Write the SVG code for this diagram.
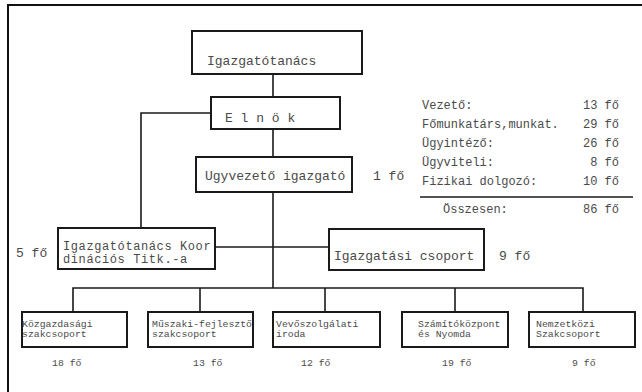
<svg xmlns="http://www.w3.org/2000/svg" width="642" height="392" viewBox="0 0 642 392">
<style>
.box{fill:#fff;stroke:#1a1a1a;stroke-width:2}
.ln{fill:none;stroke:#1a1a1a;stroke-width:1.6}
text{font-family:"Liberation Mono","DejaVu Sans Mono",monospace;fill:#4a4a4a}
.m{font-size:13px}
.k{font-size:12px;letter-spacing:0.6px}
.s{font-size:12px}
.x{font-size:9.8px}
.e{text-anchor:end}
</style>
<rect x="0" y="0" width="642" height="392" fill="#fff"/>
<path d="M8,392 V5 H642" fill="none" stroke="#111" stroke-width="2"/>
<g id="connectors">
<path class="ln" d="M273,74 V97"/>
<path class="ln" d="M211,113 H141 V228"/>
<path class="ln" d="M273,129 V157"/>
<path class="ln" d="M273,192 V288"/>
<path class="ln" d="M215,247 H329"/>
<path class="ln" d="M73,312 V288 H583 V312"/>
<path class="ln" d="M200,288 V312"/>
<path class="ln" d="M325,288 V312"/>
<path class="ln" d="M455,288 V312"/>
</g>
<g id="igazgatotanacs"><rect class="box" x="192" y="31" width="170" height="43"/><text class="m" x="207" y="64.5">Igazgatótanács</text></g>
<g id="elnok"><rect class="box" x="211" y="97" width="129" height="32"/><text class="m" x="225" y="121.5">E l n ö k</text></g>
<g id="ugyvezeto"><rect class="box" x="196" y="157" width="156" height="35"/><text class="m" x="205" y="179.5">Ugyvezető igazgató</text><text class="m" x="373" y="179.5">1 fő</text></g>
<g id="koordinacios"><rect class="box" x="58" y="228" width="157" height="41"/><text class="k" x="63" y="249.5">Igazgatótanács Koor</text><text class="k" x="63" y="262.5">dinációs Titk.-a</text><text class="m" x="16" y="256.5">5 fő</text></g>
<g id="igazgatasi"><rect class="box" x="329" y="229" width="155" height="41"/><text class="m" x="334" y="259.5">Igazgatási csoport</text><text class="m" x="499" y="259.5">9 fő</text></g>
<g id="kozgazdasagi"><rect class="box" x="22" y="312" width="105" height="35"/><text class="x" x="22" y="326.5">Közgazdasági</text><text class="x" x="22" y="336.5">szakcsoport</text><text class="x" x="52" y="366">18 fő</text></g>
<g id="muszaki"><rect class="box" x="148" y="312" width="105" height="35"/><text class="x" x="152" y="326.5">Műszaki-fejlesztő</text><text class="x" x="152" y="336.5">szakcsoport</text><text class="x" x="193" y="366">13 fő</text></g>
<g id="vevoszolgalati"><rect class="box" x="273" y="312" width="107" height="35"/><text class="x" x="276" y="326.5">Vevőszolgálati</text><text class="x" x="276" y="336.5">iroda</text><text class="x" x="301" y="366">12 fő</text></g>
<g id="szamitokozpont"><rect class="box" x="402" y="312" width="106" height="35"/><text class="x" x="418" y="326.5">Számítóközpont</text><text class="x" x="418" y="336.5">és Nyomda</text><text class="x" x="442" y="366">19 fő</text></g>
<g id="nemzetkozi"><rect class="box" x="529" y="312" width="106" height="35"/><text class="x" x="536" y="326.5">Nemzetközi</text><text class="x" x="536" y="336.5">Szakcsoport</text><text class="x" x="572" y="366">9 fő</text></g>
<g id="letszam">
<text class="s" x="422" y="109">Vezető:</text><text class="s e" x="619" y="109">13 fő</text>
<text class="s" x="422" y="127.5">Főmunkatárs,munkat.</text><text class="s e" x="619" y="127.5">29 fő</text>
<text class="s" x="422" y="147">Ügyintéző:</text><text class="s e" x="619" y="147">26 fő</text>
<text class="s" x="422" y="166">Ügyviteli:</text><text class="s e" x="619" y="166">8 fő</text>
<text class="s" x="422" y="185">Fizikai dolgozó:</text><text class="s e" x="619" y="185">10 fő</text>
<path d="M420,197 H633" fill="none" stroke="#1a1a1a" stroke-width="1.6"/>
<text class="s" x="443" y="213">Összesen:</text><text class="s e" x="619" y="213">86 fő</text>
</g>
</svg>
